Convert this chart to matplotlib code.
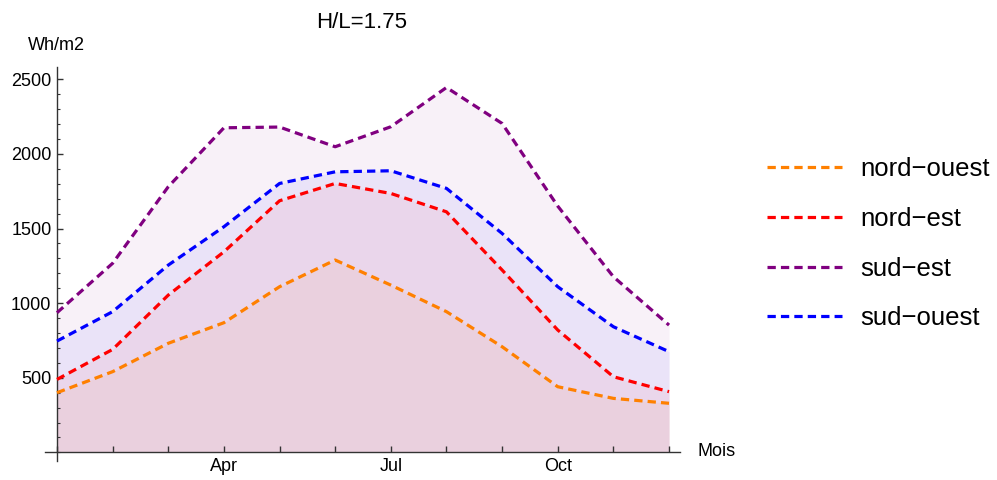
import numpy as np
import matplotlib.pyplot as plt
from matplotlib.ticker import MultipleLocator, FixedLocator

plt.rcParams['font.family'] = ['Liberation Sans', 'DejaVu Sans']

# ensoleillement mensuel par orientation (Wh/m2), H/L = 1.75
mois = np.arange(1, 13)
mois_labels = ['', '', '', 'Apr', '', '', 'Jul', '', '', 'Oct', '', '']

nord_ouest = [400, 541, 731, 869, 1110, 1289, 1121, 943, 708, 440, 362, 329]
nord_est = [489, 690, 1054, 1344, 1686, 1802, 1735, 1612, 1222, 820, 507, 407]
sud_est = [936, 1267, 1780, 2175, 2180, 2048, 2182, 2445, 2204, 1650, 1177, 853]
sud_ouest = [746, 943, 1255, 1512, 1802, 1880, 1887, 1769, 1467, 1110, 842, 675]

series = [
    ("nord−ouest", nord_ouest, (1.0, 0.5, 0.0)),
    ("nord−est", nord_est, (1.0, 0.0, 0.0)),
    ("sud−est", sud_est, (0.5, 0.0, 0.5)),
    ("sud−ouest", sud_ouest, (0.0, 0.0, 1.0)),
]

fig = plt.figure(figsize=(9.97, 4.8), dpi=100)
ax = fig.add_axes([0.0451, 0.0404, 0.637, 0.8196])

handles = []
for name, vals, col in series:
    ax.fill_between(mois, vals, 0, color=col, alpha=0.055, lw=0, zorder=1)
    ln, = ax.plot(mois, vals, color=col, lw=2.3, ls=(0, (2.6, 1.6)), zorder=3, label=name)
    handles.append(ln)

ax.set_xlim(0.784, 12.198)
ax.set_ylim(-55, 2581)

# axes style Mathematica: croisement a l'origine, graduations vers l'interieur
for s in ['top', 'right']:
    ax.spines[s].set_visible(False)
ax.spines['left'].set_position(('data', 1))
ax.spines['bottom'].set_position(('data', 0))
for s in ['left', 'bottom']:
    ax.spines[s].set_color('#333333')
    ax.spines[s].set_linewidth(1.0)

ax.xaxis.set_major_locator(FixedLocator(mois))
ax.set_xticklabels(mois_labels)
ax.yaxis.set_major_locator(FixedLocator([500, 1000, 1500, 2000, 2500]))
ax.yaxis.set_minor_locator(MultipleLocator(100))
ax.tick_params(axis='x', direction='in', length=4, width=1, color='#333333',
               labelsize=13, pad=4)
ax.tick_params(axis='y', which='major', direction='in', length=4.5, width=1,
               color='#333333', labelsize=13, pad=4)
ax.tick_params(axis='y', which='minor', direction='in', length=2.5, width=0.8,
               color='#333333')

fig.text(361.7 / 997, 1 - 22 / 480, "H/L=1.75", ha='center', va='center', fontsize=16)
fig.text(28 / 997, 1 - 45 / 480, "Wh/m2", ha='left', va='center', fontsize=13)
fig.text(697 / 997, 1 - 451 / 480, "Mois", ha='left', va='center', fontsize=13)

fig.legend(handles=handles, loc='center left', bbox_to_anchor=(767 / 997, 0.492),
           frameon=False, fontsize=18.5, handlelength=2.9, handletextpad=0.72,
           labelspacing=1.0, borderpad=0, borderaxespad=0)

fig.savefig("out.png", dpi=100)
